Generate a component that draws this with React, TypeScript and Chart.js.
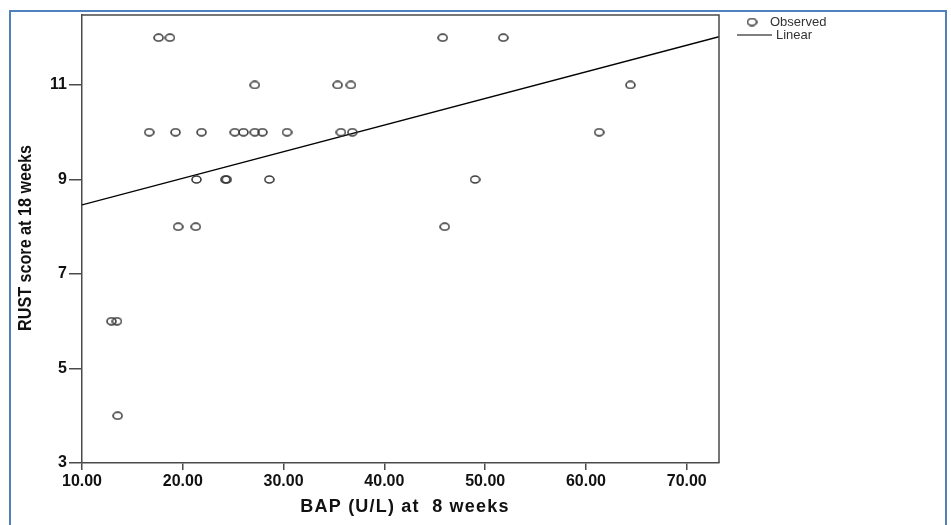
import React, { useEffect, useRef } from "react";
import { Chart, registerables } from "chart.js";

Chart.register(...registerables);

// ---- data ----
const bapValues: number[] = [
  17.6, 18.72, 45.79, 51.8,
  27.14, 35.36, 36.68, 64.41,
  16.67, 19.28, 21.86, 25.16, 26.02, 27.14, 27.9, 30.34, 35.69, 36.82, 61.31,
  21.36, 24.22, 24.36, 28.59, 49.0,
  19.54, 21.29, 45.99,
  12.92, 13.47,
  13.54,
];
const rustScores: number[] = [
  12, 12, 12, 12,
  11, 11, 11, 11,
  10, 10, 10, 10, 10, 10, 10, 10, 10, 10, 10,
  9, 9, 9, 9, 9,
  8, 8, 8,
  6, 6,
  4,
];
const fitX: number[] = [10, 73.2];
const fitY: number[] = [8.46, 12.02];
const xTicks: number[] = [10, 20, 30, 40, 50, 60, 70];
const yTicks: number[] = [3, 5, 7, 9, 11];
const xRange: number[] = [10, 73.2];
const yRange: number[] = [3, 12.48];
const xTitle = "BAP (U/L) at  8 weeks";
const yTitle = "RUST score at 18 weeks";
const legendLabels: string[] = ["Observed", "Linear"];

function makeRing(w: number, h: number, lw: number, color: string) {
  const c = document.createElement("canvas");
  c.width = w;
  c.height = h;
  const g = c.getContext("2d")!;
  g.strokeStyle = color;
  g.lineWidth = lw;
  g.beginPath();
  g.ellipse(w / 2, h / 2, w / 2 - lw / 2 - 0.2, h / 2 - lw / 2 - 0.2, 0, 0, Math.PI * 2);
  g.stroke();
  return c;
}

export default function App() {
  const ref = useRef<HTMLCanvasElement | null>(null);

  useEffect(() => {
    if (!ref.current) return;
    const ring = makeRing(11, 9, 1.6, "#3a3a3a");
    const axisColor = "#4a4a4a";

    const framePlugin = {
      id: "frameAndText",
      afterDraw(chart: any) {
        const ctx = chart.ctx as CanvasRenderingContext2D;
        const a = chart.chartArea;
        ctx.save();
        // frame top & right
        ctx.strokeStyle = axisColor;
        ctx.lineWidth = 1.5;
        ctx.beginPath();
        ctx.moveTo(a.left, a.top);
        ctx.lineTo(a.right, a.top);
        ctx.lineTo(a.right, a.bottom);
        ctx.stroke();

        // axis titles
        ctx.fillStyle = "#111";
        ctx.textAlign = "center";
        ctx.textBaseline = "middle";
        ctx.font = "bold 18px 'Liberation Sans', Arial, sans-serif";
        try {
          (ctx as any).letterSpacing = "1.2px";
        } catch (e) {}
        ctx.fillText(xTitle, 405, 507);
        try {
          (ctx as any).letterSpacing = "0px";
        } catch (e) {}
        ctx.save();
        ctx.translate(26, 238);
        ctx.rotate(-Math.PI / 2);
        ctx.scale(0.85, 1);
        ctx.font = "bold 19px 'Liberation Sans', Arial, sans-serif";
        ctx.fillText(yTitle, 0, 0);
        ctx.restore();

        // legend
        ctx.drawImage(ring, 752 - ring.width / 2, 22 - ring.height / 2);
        ctx.strokeStyle = "#000";
        ctx.lineWidth = 1.2;
        ctx.beginPath();
        ctx.moveTo(737, 35);
        ctx.lineTo(772, 35);
        ctx.stroke();
        ctx.font = "13px 'Liberation Sans', Arial, sans-serif";
        ctx.fillStyle = "#333";
        ctx.textAlign = "left";
        ctx.fillText(legendLabels[0], 770, 22);
        ctx.fillText(legendLabels[1], 776, 35);
        ctx.restore();
      },
    };

    const chart = new Chart(ref.current, {
      type: "scatter",
      data: {
        datasets: [
          {
            label: legendLabels[1],
            type: "line",
            data: fitX.map((x, i) => ({ x, y: fitY[i] })),
            borderColor: "#000",
            borderWidth: 1.3,
            pointRadius: 0,
            fill: false,
            order: 2,
          } as any,
          {
            label: legendLabels[0],
            data: bapValues.map((x, i) => ({ x, y: rustScores[i] })),
            pointStyle: ring as any,
            pointRadius: 5,
            order: 1,
          },
        ],
      },
      options: {
        responsive: false,
        animation: false,
        devicePixelRatio: 1,
        layout: { padding: { left: 0, right: 232, top: 15, bottom: 0 } },
        plugins: { legend: { display: false }, tooltip: { enabled: false } },
        scales: {
          x: {
            type: "linear",
            min: xRange[0],
            max: xRange[1],
            afterBuildTicks: (s: any) => {
              s.ticks = xTicks.map((v) => ({ value: v }));
            },
            afterFit: (s: any) => {
              s.height = 62;
            },
            ticks: {
              callback: (v: any) => Number(v).toFixed(2),
              font: { family: "'Liberation Sans', Arial, sans-serif", size: 16, weight: "bold" },
              color: "#111",
              padding: 2,
              maxRotation: 0,
              autoSkip: false,
            },
            grid: { drawOnChartArea: false, drawTicks: true, tickLength: 7, color: axisColor, lineWidth: 1.5 },
            border: { display: true, color: axisColor, width: 1.5 },
          },
          y: {
            type: "linear",
            min: yRange[0],
            max: yRange[1],
            afterBuildTicks: (s: any) => {
              s.ticks = yTicks.map((v) => ({ value: v }));
            },
            afterFit: (s: any) => {
              s.width = 82;
            },
            ticks: {
              callback: (v: any) => String(v),
              font: { family: "'Liberation Sans', Arial, sans-serif", size: 16, weight: "bold" },
              color: "#111",
              padding: 2,
              autoSkip: false,
            },
            grid: { drawOnChartArea: false, drawTicks: true, tickLength: 13, color: axisColor, lineWidth: 1.5 },
            border: { display: true, color: axisColor, width: 1.5 },
          },
        },
      },
      plugins: [framePlugin],
    });
    return () => chart.destroy();
  }, []);

  return (
    <div style={{ position: "fixed", left: 0, top: 0, width: 951, height: 525, background: "#fff", overflow: "hidden" }}>
      <canvas ref={ref} width={951} height={525} style={{ position: "absolute", left: 0, top: 0 }} />
      <div
        style={{
          position: "absolute",
          left: 9,
          top: 10,
          width: 938,
          height: 530,
          border: "2px solid #4f81bd",
          boxSizing: "border-box",
          pointerEvents: "none",
        }}
      />
    </div>
  );
}
